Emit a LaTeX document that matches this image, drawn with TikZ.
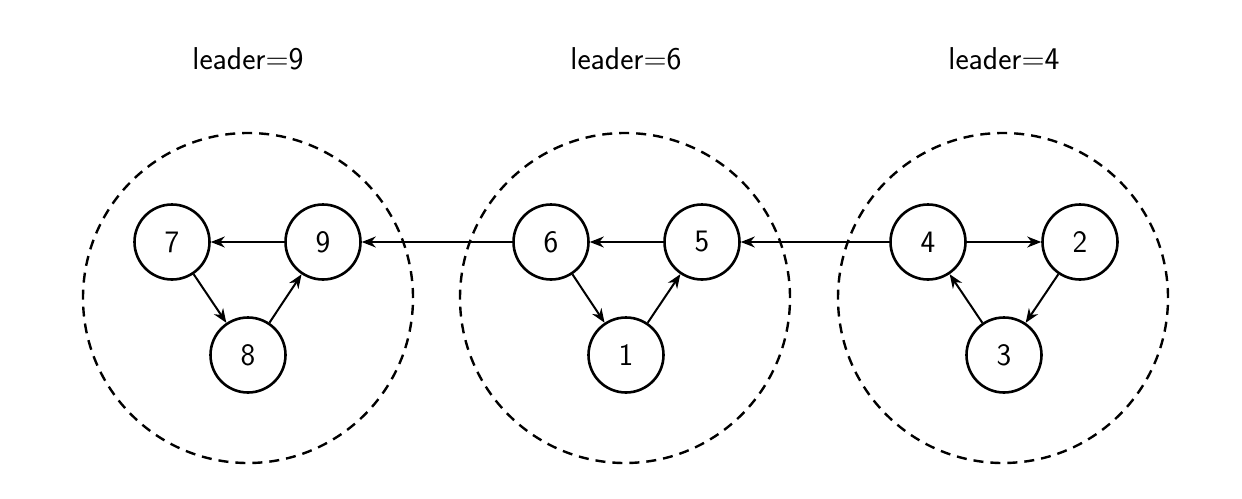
\documentclass[tikz,border=0pt]{standalone}
\usetikzlibrary{arrows.meta}
\begin{document}
\begin{tikzpicture}[x=0.5pt,y=-0.5pt,
  vtx/.style={circle,draw,line width=1.3pt,minimum size=37.5pt,inner sep=0pt,font=\sffamily\fontsize{15.6}{18}\selectfont},
  grp/.style={draw,dashed,line width=1.2pt,dash pattern=on 5pt off 3.5pt},
  lbl/.style={anchor=base,font=\sffamily\fontsize{15.8}{18}\selectfont},
  arr/.style={-{Stealth[length=7pt,width=5.5pt]},line width=1pt}]
\useasboundingbox (0,0) rectangle (1242,498);
% groups
\draw[grp] (248,298) circle (82.5pt);
\draw[grp] (625,298) circle (82.5pt);
\draw[grp] (1003,298) circle (82.5pt);
% labels
\node[lbl] (l9) at (248,69) {leader=9};
\node[lbl] (l6) at (626,69) {leader=6};
\node[lbl] (l4) at (1004,69) {leader=4};
% nodes
\node[vtx] (n7) at (172,242) {7};
\node[vtx] (n9) at (323,242) {9};
\node[vtx] (n8) at (248,355) {8};
\node[vtx] (n6) at (551,242) {6};
\node[vtx] (n5) at (702,242) {5};
\node[vtx] (n1) at (626,355) {1};
\node[vtx] (n4) at (928,242) {4};
\node[vtx] (n2) at (1080,242) {2};
\node[vtx] (n3) at (1004,355) {3};
% edges
\draw[arr] (n9) -- (n7);
\draw[arr] (n7) -- (n8);
\draw[arr] (n8) -- (n9);
\draw[arr] (n5) -- (n6);
\draw[arr] (n6) -- (n1);
\draw[arr] (n1) -- (n5);
\draw[arr] (n4) -- (n2);
\draw[arr] (n2) -- (n3);
\draw[arr] (n3) -- (n4);
\draw[arr] (n6) -- (n9);
\draw[arr] (n4) -- (n5);
\end{tikzpicture}
\end{document}
